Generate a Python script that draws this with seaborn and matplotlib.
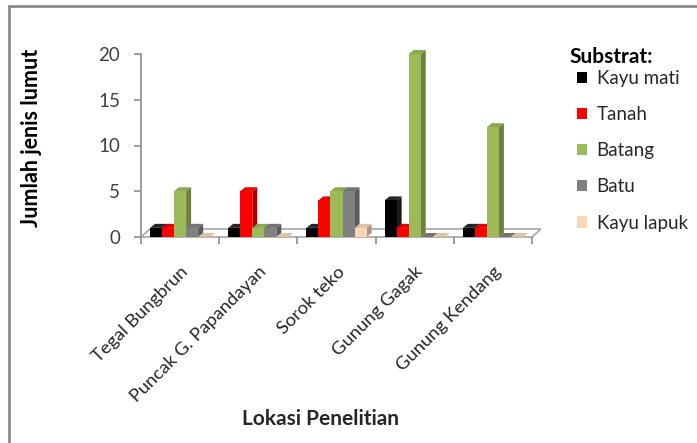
import numpy as np
import pandas as pd
import matplotlib
matplotlib.use("Agg")
import matplotlib.pyplot as plt
from matplotlib.patches import Polygon, Patch
from matplotlib.lines import Line2D
import matplotlib.colors as mcolors
import seaborn as sns

# Data: number of moss species per substrate at each location
locations = ["Tegal Bungbrun", "Puncak G. Papandayan", "Sorok teko",
             "Gunung Gagak", "Gunung Kendang"]
substrates = ["Kayu mati", "Tanah", "Batang", "Batu", "Kayu lapuk"]
kayu_mati = [1, 1, 1, 4, 1]
tanah = [1, 5, 4, 1, 1]
batang = [5, 1, 5, 20, 12]
batu = [1, 1, 5, 0, 0]
kayu_lapuk = [0, 0, 1, 0, 0]
y_ticks = [0, 5, 10, 15, 20]

colors = ["#000000", "#FF0000", "#9BBB59", "#808080", "#FCD5B5"]

series = [kayu_mati, tanah, batang, batu, kayu_lapuk]
df = pd.DataFrame({
    "Lokasi": locations * len(substrates),
    "Substrat": np.repeat(substrates, len(locations)),
    "Jumlah": np.concatenate(series),
})

sns.set_theme(style="white")
plt.rcParams["font.family"] = ["Lato", "DejaVu Sans"]

W, H = 697, 443
fig = plt.figure(figsize=(W / 100, H / 100), dpi=100)
ax = fig.add_axes([141 / W, 1 - 237 / H, 391 / W, 183 / H])

sns.barplot(data=df, x="Lokasi", y="Jumlah", hue="Substrat",
            order=locations, hue_order=substrates, palette=colors,
            width=0.77, saturation=1, legend=False, ax=ax,
            edgecolor="none", linewidth=0)

ax.set_xlim(-0.5, len(locations) - 0.5)
ax.set_ylim(0, 20)

# pixel -> data conversions for the pseudo-3D depth
px_x = 1 / (391 / len(locations))
px_y = 20 / 183
ddx, ddy = 5 * px_x, 4 * px_y

# floor slab
fdx, fdy = 9 * px_x, 8 * px_y
x0, x1 = -0.5, len(locations) - 0.5
floor = Polygon([(x0, 0), (x1, 0), (x1 + fdx, fdy), (x0 + fdx, fdy)],
                closed=True, facecolor="white", edgecolor="#A6A6A6",
                linewidth=1.2, clip_on=False, zorder=0.5)
ax.add_patch(floor)


def shade(c, f):
    r, g, b = mcolors.to_rgb(c)
    return (r * f, g * f, b * f)


for container, col in zip(ax.containers, colors):
    side_col = shade(col, 0.7) if col != "#000000" else "#1a1a1a"
    top_col = shade(col, 0.9) if col != "#000000" else "#262626"
    for bar in container:
        bx, bw, bh = bar.get_x(), bar.get_width(), bar.get_height()
        bar.set_zorder(2)
        bar.set_clip_on(False)
        # right side face
        side = Polygon([(bx + bw, 0), (bx + bw + ddx, ddy),
                        (bx + bw + ddx, bh + ddy), (bx + bw, bh)],
                       closed=True, facecolor=side_col, edgecolor="none",
                       clip_on=False, zorder=1.9)
        # top face
        top = Polygon([(bx, bh), (bx + bw, bh), (bx + bw + ddx, bh + ddy),
                       (bx + ddx, bh + ddy)],
                      closed=True, facecolor=top_col, edgecolor="none",
                      clip_on=False, zorder=1.9)
        ax.add_patch(side)
        ax.add_patch(top)

# axes styling
for s in ["top", "right", "bottom"]:
    ax.spines[s].set_visible(False)
ax.spines["left"].set_color("#8C8C8C")
ax.spines["left"].set_linewidth(1.2)

ax.set_yticks(y_ticks)
ax.tick_params(axis="y", which="major", left=True, length=5, width=1.2,
               color="#8C8C8C", labelsize=13.5, labelcolor="#404040", pad=10)

# tick marks at category boundaries, labels at category centres
ax.set_xticks(np.arange(-0.5, len(locations)), minor=False)
ax.set_xticklabels([])
ax.tick_params(axis="x", which="major", bottom=True, length=5, width=1.2,
               color="#8C8C8C")
ax.set_xticks(np.arange(len(locations)), minor=True)
ax.set_xticklabels(locations, minor=True, rotation=45, ha="right",
                   va="top", rotation_mode="anchor", fontsize=13.2,
                   color="#262626")
ax.tick_params(axis="x", which="minor", length=0, pad=19)
ax.set_xlabel("")
ax.set_ylabel("")

fig.text(321 / W, 1 - 419 / H, "Lokasi Penelitian", ha="center",
         va="center", fontsize=15, fontweight="bold", color="#262626")
fig.text(32 / W, 1 - 138 / H, "Jumlah jenis lumut", ha="center",
         va="center", rotation=90, fontsize=15.5, fontweight="bold",
         color="#000000")

# legend
fig.text(569 / W, 1 - 57 / H, "Substrat:", ha="left", va="center",
         fontsize=15, fontweight="bold", color="#000000")
handles = [Patch(facecolor=c, edgecolor="none") for c in colors]
leg = fig.legend(handles, substrates,
                 loc="upper left", bbox_to_anchor=(577 / W, 1 - 70 / H),
                 frameon=False, fontsize=13.5,
                 handlelength=0.55, handleheight=0.55, handletextpad=0.5,
                 labelspacing=1.02, borderpad=0, borderaxespad=0)
for t in leg.get_texts():
    t.set_color("#262626")

# outer border
fig.add_artist(Line2D([9 / W, 9 / W], [0, 1 - 6 / H],
                      transform=fig.transFigure, color="#8C8C8C", lw=2))
fig.add_artist(Line2D([9 / W, 1], [1 - 6 / H, 1 - 6 / H],
                      transform=fig.transFigure, color="#8C8C8C", lw=2))

fig.savefig("out.png", dpi=100, facecolor="white")
